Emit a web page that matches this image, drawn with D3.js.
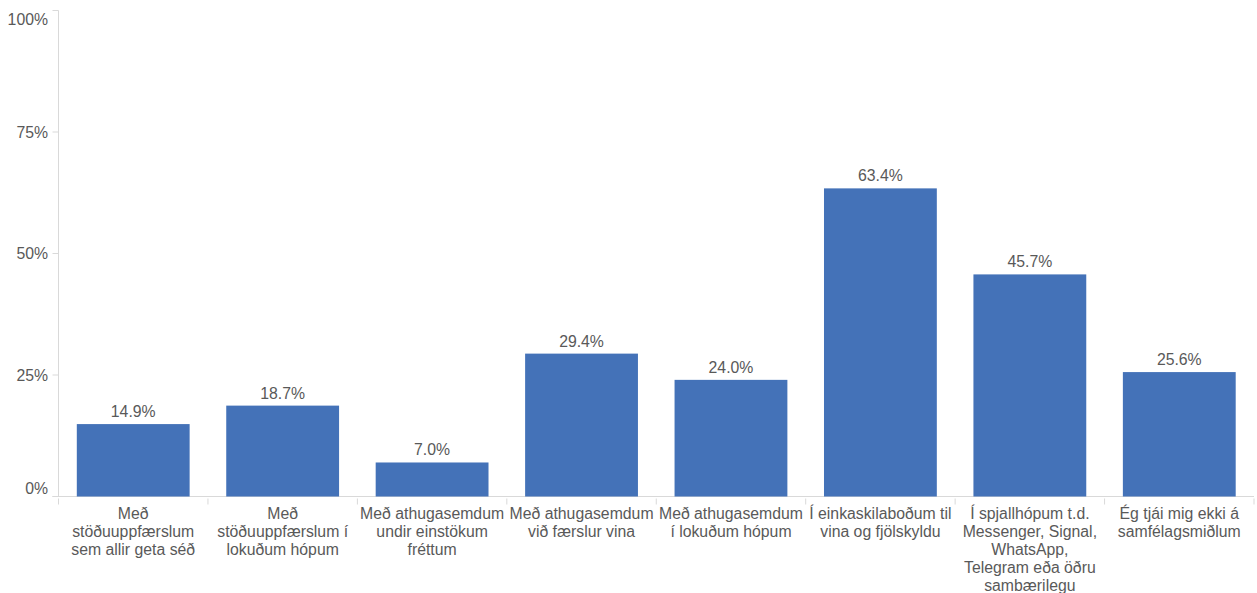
<!DOCTYPE html>
<html>
<head>
<meta charset="utf-8">
<script src="https://cdn.jsdelivr.net/npm/d3@7"></script>
<style>
  html, body { margin: 0; padding: 0; background: #fff; }
  svg { display: block; font-family: "Liberation Sans", Arial, sans-serif; }
</style>
</head>
<body>
<svg id="chart" width="1257" height="593"></svg>
<script>
// Survey answers: where respondents express themselves on social media
const categories = [
  "Með\nstöðuuppfærslum\nsem allir geta séð",
  "Með\nstöðuuppfærslum í\nlokuðum hópum",
  "Með athugasemdum\nundir einstökum\nfréttum",
  "Með athugasemdum\nvið færslur vina",
  "Með athugasemdum\ní lokuðum hópum",
  "Í einkaskilaboðum til\nvina og fjölskyldu",
  "Í spjallhópum t.d.\nMessenger, Signal,\nWhatsApp,\nTelegram eða öðru\nsambærilegu",
  "Ég tjái mig ekki á\nsamfélagsmiðlum"
];
const values = [14.9, 18.7, 7.0, 29.4, 24.0, 63.4, 45.7, 25.6];
const yTicks = [0, 25, 50, 75, 100];

const svg = d3.select("#chart");
const margin = { top: 10.5, right: 3, bottom: 96.5, left: 58.5 };
const W = 1257, H = 593;
const fontSize = 15.8;

const x = d3.scaleBand()
  .domain(categories)
  .range([margin.left, W - margin.right])
  .paddingInner(0.245)
  .paddingOuter(0.1225);

const xOuter = d3.scaleBand()
  .domain(categories)
  .range([margin.left, W - margin.right]);

const y = d3.scaleLinear()
  .domain([0, 100])
  .range([H - margin.bottom, margin.top]);

const axisColor = "#d9d9d9";
const textColor = "#595959";

// y axis: vertical line, short ticks, percent labels
svg.append("line")
  .attr("x1", margin.left).attr("x2", margin.left)
  .attr("y1", y(100)).attr("y2", y(0))
  .attr("stroke", axisColor);

const yg = svg.append("g");
yTicks.forEach(t => {
  yg.append("line")
    .attr("x1", margin.left - 6).attr("x2", margin.left)
    .attr("y1", y(t)).attr("y2", y(t))
    .attr("stroke", axisColor);
  let ty = y(t) + 5.5;
  if (t === 100) ty = y(t) + 14;
  if (t === 0) ty = y(t) - 3;
  yg.append("text")
    .attr("x", 48).attr("y", ty)
    .attr("text-anchor", "end")
    .attr("font-size", fontSize)
    .attr("fill", textColor)
    .text(t + "%");
});

// baseline and category separators
svg.append("line")
  .attr("x1", margin.left - 6).attr("x2", W - margin.right)
  .attr("y1", y(0)).attr("y2", y(0))
  .attr("stroke", axisColor);

categories.forEach(c => {
  const xs = xOuter(c);
  svg.append("line")
    .attr("x1", xs).attr("x2", xs)
    .attr("y1", y(0) + 2).attr("y2", y(0) + 8)
    .attr("stroke", axisColor);
});
svg.append("line")
  .attr("x1", W - margin.right).attr("x2", W - margin.right)
  .attr("y1", y(0) + 2).attr("y2", y(0) + 8)
  .attr("stroke", axisColor);

// bars
svg.append("g").selectAll("rect")
  .data(values)
  .join("rect")
  .attr("x", (d, i) => x(categories[i]))
  .attr("width", x.bandwidth())
  .attr("y", d => y(d))
  .attr("height", d => y(0) - y(d))
  .attr("fill", "#4472b8");

// value labels
svg.append("g").selectAll("text")
  .data(values)
  .join("text")
  .attr("x", (d, i) => x(categories[i]) + x.bandwidth() / 2)
  .attr("y", d => y(d) - 7)
  .attr("text-anchor", "middle")
  .attr("font-size", fontSize)
  .attr("fill", textColor)
  .text(d => d.toFixed(1) + "%");

// category labels, one tspan per line
const lab = svg.append("g").selectAll("text")
  .data(categories)
  .join("text")
  .attr("text-anchor", "middle")
  .attr("font-size", fontSize)
  .attr("fill", textColor)
  .attr("transform", c => `translate(${xOuter(c) + xOuter.bandwidth() / 2},${y(0) + 22.5})`);

lab.each(function(c) {
  const t = d3.select(this);
  c.split("\n").forEach((line, k) => {
    t.append("tspan").attr("x", 0).attr("y", k * 18).text(line);
  });
});
</script>
</body>
</html>
